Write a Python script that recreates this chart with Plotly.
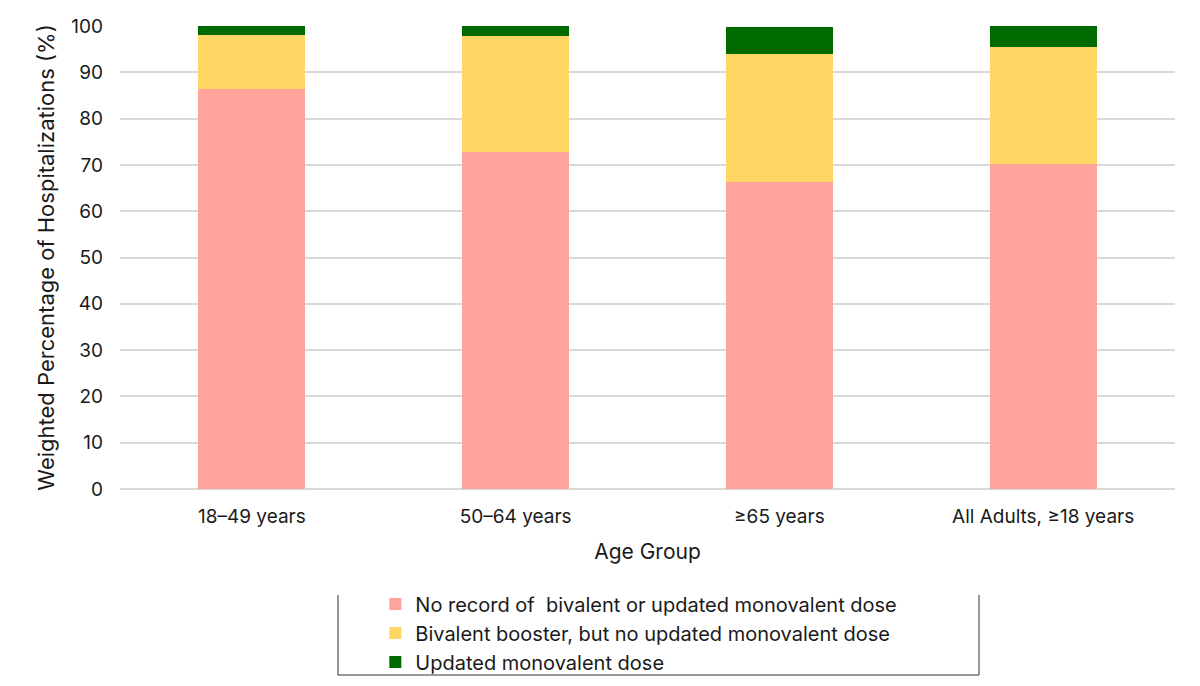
import plotly.graph_objects as go

categories = ["18–49 years", "50–64 years", "≥65 years", "All Adults, ≥18 years"]
no_record = [86.4, 72.8, 66.4, 70.2]
bivalent = [11.7, 25.0, 27.6, 25.3]
updated = [1.9, 2.2, 5.7, 4.5]
series_names = [
    "No record of\u00a0 bivalent or updated monovalent dose",
    "Bivalent booster, but no updated monovalent dose",
    "Updated monovalent dose",
]
colors = ["#FFA39B", "#FFD666", "#006A00"]
y_ticks = list(range(0, 101, 10))

fig = go.Figure()
for name, vals, col in zip(series_names, [no_record, bivalent, updated], colors):
    fig.add_trace(go.Bar(x=categories, y=vals, name=name, marker=dict(color=col, line=dict(width=0))))

FONT = "Inter, Roboto, Arial, sans-serif"
# page has an 8px body offset; plot area should land at x 120..1175, y 26..489
fig.update_layout(
    barmode="stack",
    bargap=0.594,
    width=1200, height=686,
    margin=dict(l=112, r=33, t=18, b=205, autoexpand=False),
    paper_bgcolor="white", plot_bgcolor="white",
    font=dict(family=FONT, color="#1a1a1a", size=19),
    xaxis=dict(title=dict(text="Age Group", font=dict(size=21), standoff=17),
               tickfont=dict(size=19), showgrid=False, showline=False, ticks="",
               ticklabelstandoff=14, automargin=False),
    yaxis=dict(title=dict(text="Weighted Percentage of Hospitalizations (%)", font=dict(size=22), standoff=10),
               range=[0, 100], tickvals=y_ticks, tickfont=dict(size=19),
               showgrid=True, gridcolor="#D9D9D9", gridwidth=1.5,
               zeroline=True, zerolinecolor="#D9D9D9", zerolinewidth=1.5,
               ticklabelstandoff=16, automargin=False),
    legend=dict(orientation="v", x=0.242, xanchor="left", y=-0.206, yanchor="top",
                font=dict(size=20), traceorder="normal", tracegroupgap=0,
                bgcolor="rgba(0,0,0,0)"),
    showlegend=True,
)
# legend frame (left, bottom, right sides)
for x0, y0, x1, y1 in [(338, 595, 338, 675), (338, 675, 979, 675), (979, 595, 979, 675)]:
    fig.add_shape(type="line", xref="paper", yref="paper",
                  x0=(x0 - 120) / 1055, x1=(x1 - 120) / 1055,
                  y0=(489 - y0) / 463, y1=(489 - y1) / 463,
                  line=dict(color="#333333", width=1))

fig.write_html("out.html")
